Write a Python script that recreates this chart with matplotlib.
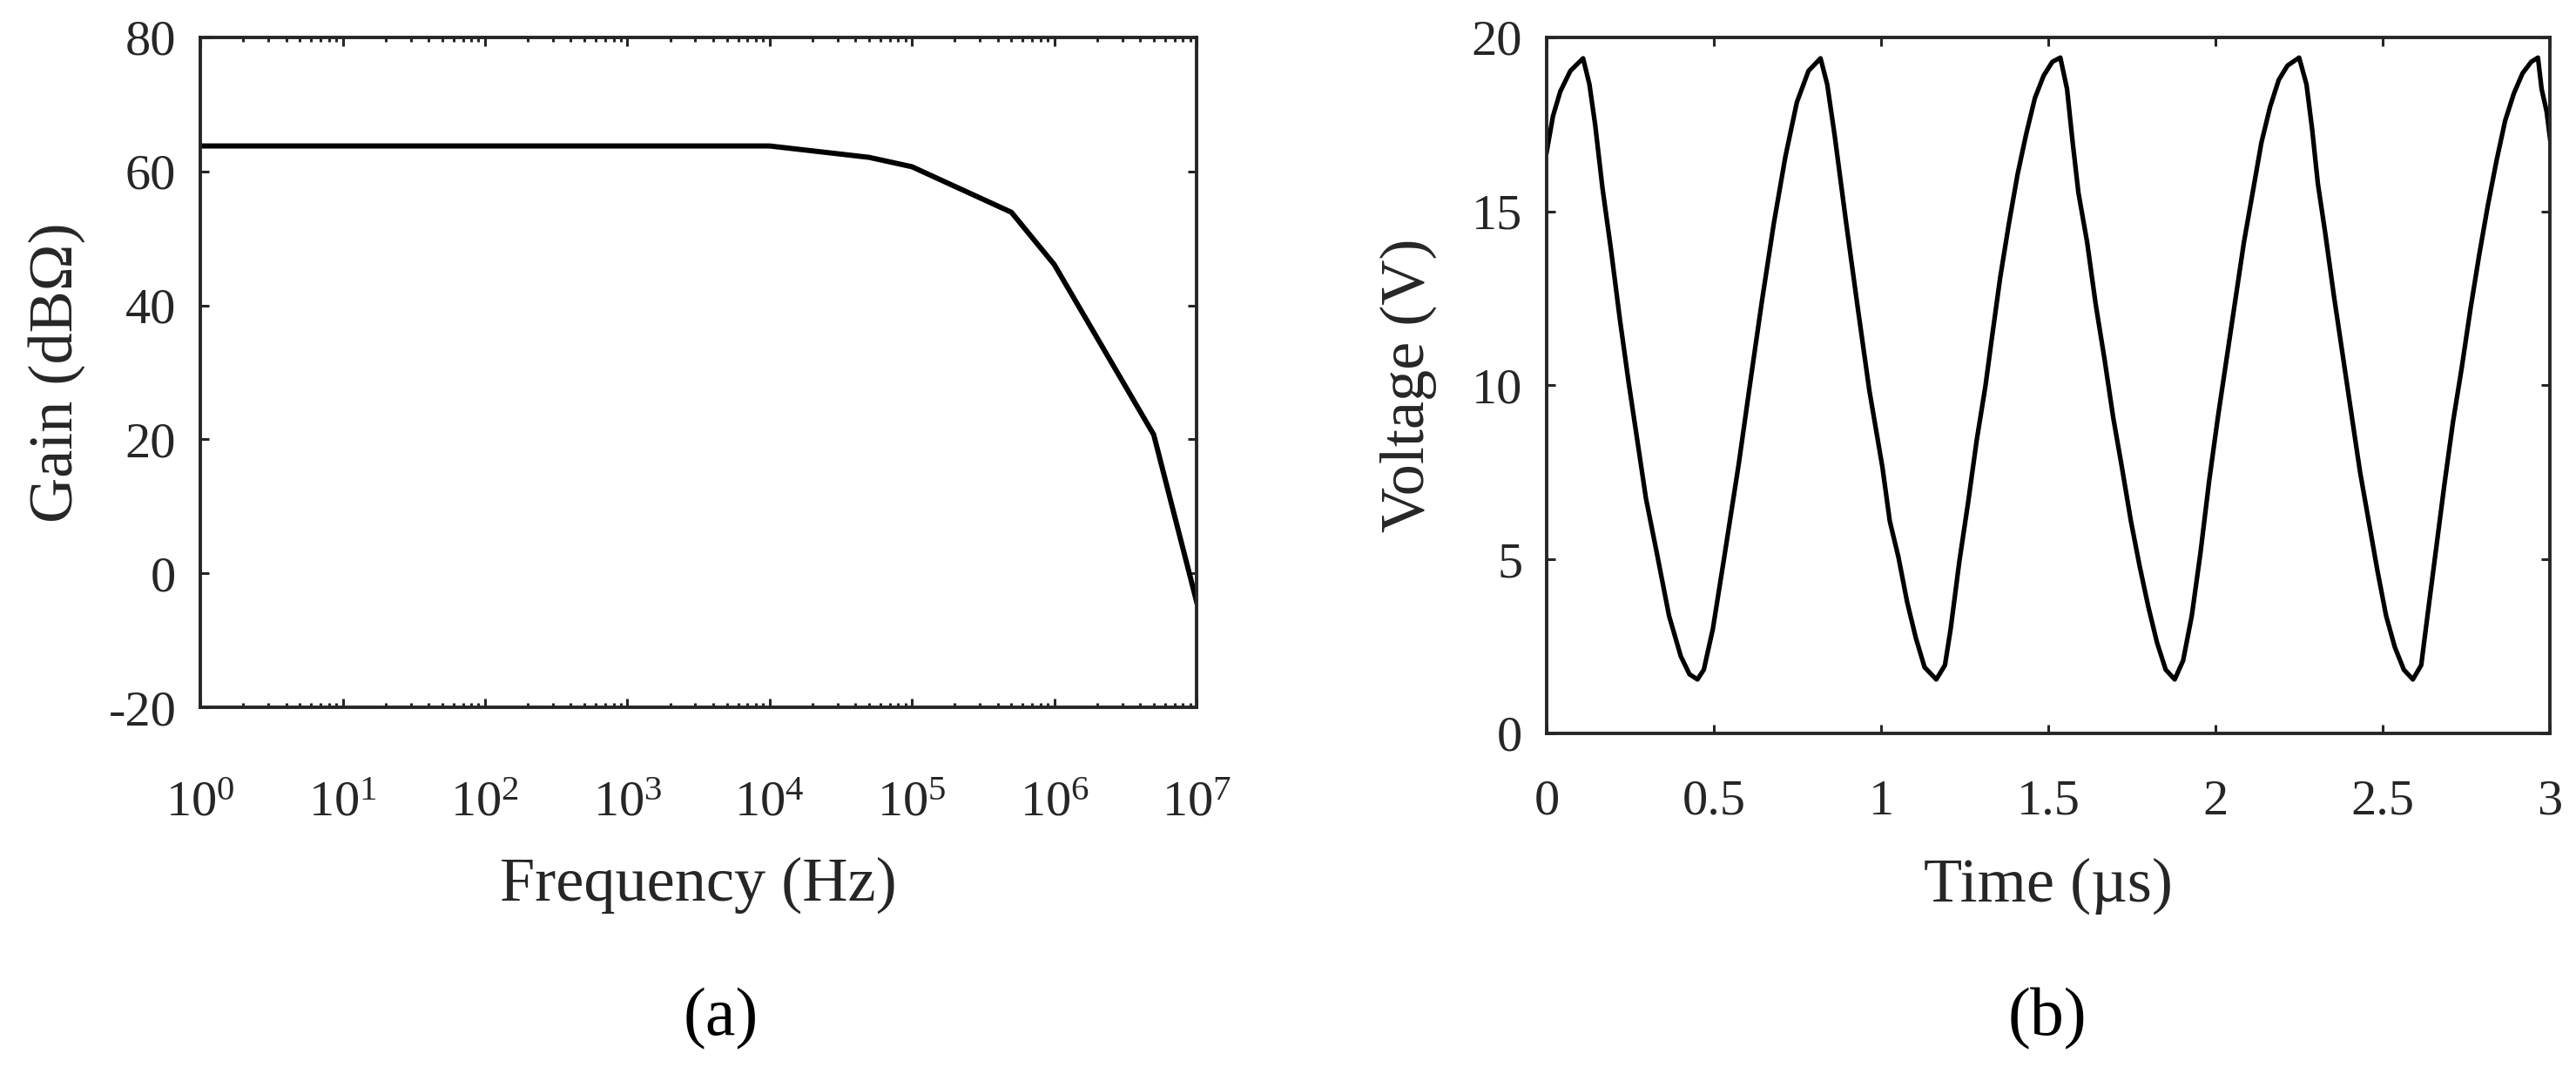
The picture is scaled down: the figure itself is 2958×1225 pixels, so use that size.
import matplotlib
matplotlib.use('Agg')
import matplotlib.pyplot as plt
from matplotlib.ticker import LogLocator, NullFormatter

plt.rcParams['font.family'] = ['Liberation Serif', 'DejaVu Serif']
plt.rcParams['mathtext.fontset'] = 'custom'
plt.rcParams['mathtext.rm'] = 'Liberation Serif'
plt.rcParams['mathtext.it'] = 'Liberation Serif:italic'
plt.rcParams['axes.unicode_minus'] = False

# (a) transimpedance gain vs frequency
freq = [1, 1e4, 5e4, 1e5, 5e5, 1e6, 5e6, 1e7]
gain = [63.8, 63.8, 62.1, 60.7, 53.9, 46.1, 20.7, -4.2]
gain_ticks = [-20, 0, 20, 40, 60, 80]

# (b) output voltage vs time
time_us = [0.000, 0.019, 0.041, 0.071, 0.109, 0.128, 0.145, 0.167, 0.193, 0.219,
           0.245, 0.271, 0.297, 0.332, 0.366, 0.401, 0.427, 0.451, 0.470, 0.497,
           0.531, 0.575, 0.609, 0.644, 0.679, 0.714, 0.748, 0.783, 0.819, 0.839,
           0.861, 0.896, 0.931, 0.965, 1.004, 1.026, 1.052, 1.078, 1.104, 1.130,
           1.165, 1.191, 1.208, 1.234, 1.260, 1.286, 1.312, 1.330, 1.356, 1.382,
           1.408, 1.434, 1.460, 1.486, 1.512, 1.536, 1.556, 1.573, 1.590, 1.616,
           1.642, 1.668, 1.694, 1.720, 1.747, 1.773, 1.799, 1.825, 1.851, 1.878,
           1.903, 1.929, 1.955, 1.981, 2.007, 2.033, 2.059, 2.085, 2.111, 2.137,
           2.163, 2.189, 2.215, 2.250, 2.272, 2.289, 2.306, 2.328, 2.354, 2.380,
           2.406, 2.432, 2.458, 2.484, 2.510, 2.536, 2.563, 2.590, 2.615, 2.632,
           2.658, 2.684, 2.710, 2.736, 2.762, 2.788, 2.814, 2.840, 2.866, 2.892,
           2.918, 2.944, 2.964, 2.975, 2.990, 3.000]
voltage = [16.7, 17.74, 18.45, 19.04, 19.4, 18.65, 17.5, 15.67, 13.86, 11.9,
           10.1, 8.43, 6.75, 5.06, 3.38, 2.22, 1.7, 1.55, 1.83, 3.0,
           5.06, 7.78, 10.1, 12.44, 14.64, 16.58, 18.13, 19.04, 19.4, 18.65,
           17.2, 14.64, 12.18, 9.85, 7.65, 6.1, 5.06, 3.77, 2.74, 1.9,
           1.55, 1.96, 3.0, 4.94, 6.62, 8.43, 9.98, 11.27, 13.09, 14.64,
           16.06, 17.23, 18.26, 18.9, 19.3, 19.42, 18.52, 16.97, 15.54, 14.12,
           12.31, 10.76, 9.08, 7.65, 6.1, 4.81, 3.64, 2.61, 1.83, 1.55,
           2.09, 3.38, 5.19, 7.26, 9.08, 10.76, 12.44, 14.12, 15.54, 16.97,
           18.0, 18.78, 19.19, 19.42, 18.65, 17.35, 15.8, 14.38, 12.57, 10.89,
           9.2, 7.52, 6.1, 4.68, 3.38, 2.48, 1.83, 1.55, 1.96, 3.25,
           5.19, 7.13, 8.95, 10.5, 12.18, 13.73, 15.16, 16.45, 17.61, 18.39,
           18.97, 19.3, 19.42, 18.52, 17.87, 17.1]
time_ticks = [0, 0.5, 1, 1.5, 2, 2.5, 3]
time_labels = ['0', '0.5', '1', '1.5', '2', '2.5', '3']
volt_ticks = [0, 5, 10, 15, 20]

dark = '#262626'
fig = plt.figure(figsize=(29.58, 12.25), dpi=100)

ax1 = fig.add_axes([0.0778, 0.3371, 0.3867, 0.6278])
ax2 = fig.add_axes([0.6004, 0.3127, 0.3895, 0.6522])

ax1.semilogx(freq, gain, color='black', lw=4.3)
ax1.set_xlim(1, 1e7)
ax1.set_ylim(-20, 80)
ax1.set_yticks(gain_ticks)
ax1.xaxis.set_major_locator(LogLocator(base=10, numticks=20))
ax1.xaxis.set_minor_locator(LogLocator(base=10, subs=range(2, 10), numticks=100))
ax1.xaxis.set_minor_formatter(NullFormatter())

ax2.plot(time_us, voltage, color='black', lw=3.8)
ax2.set_xlim(0, 3)
ax2.set_ylim(0, 20)
ax2.set_xticks(time_ticks)
ax2.set_xticklabels(time_labels)
ax2.set_yticks(volt_ticks)

for ax in (ax1, ax2):
    for s in ax.spines.values():
        s.set_linewidth(2.8)
        s.set_color(dark)
    ax.tick_params(which='both', direction='in', top=True, right=True,
                   color=dark, labelcolor=dark, labelsize=42, width=2.2)
    ax.tick_params(which='major', length=7.2)
    ax.tick_params(which='minor', length=3.6)
    ax.tick_params(axis='y', pad=20)

ax1.tick_params(axis='x', pad=61)
ax2.tick_params(axis='x', pad=38)

ax1.set_xlabel('Frequency (Hz)', fontsize=52, color=dark, va='center')
ax1.xaxis.set_label_coords(0.5, -0.266)
ax1.set_ylabel('Gain (dBΩ)', fontsize=52, color=dark, va='center')
ax1.yaxis.set_label_coords(-0.144, 0.5)

ax2.set_xlabel('Time (µs)', fontsize=52, color=dark, va='center')
ax2.xaxis.set_label_coords(0.5, -0.219)
ax2.set_ylabel('Voltage (V)', fontsize=52, color=dark, va='center')
ax2.yaxis.set_label_coords(-0.138, 0.5)

fig.text(0.2799, 0.045, '(a)', fontsize=56, ha='center', va='center')
fig.text(0.7948, 0.045, '(b)', fontsize=56, ha='center', va='center')

fig.savefig('out.png', dpi=100)
